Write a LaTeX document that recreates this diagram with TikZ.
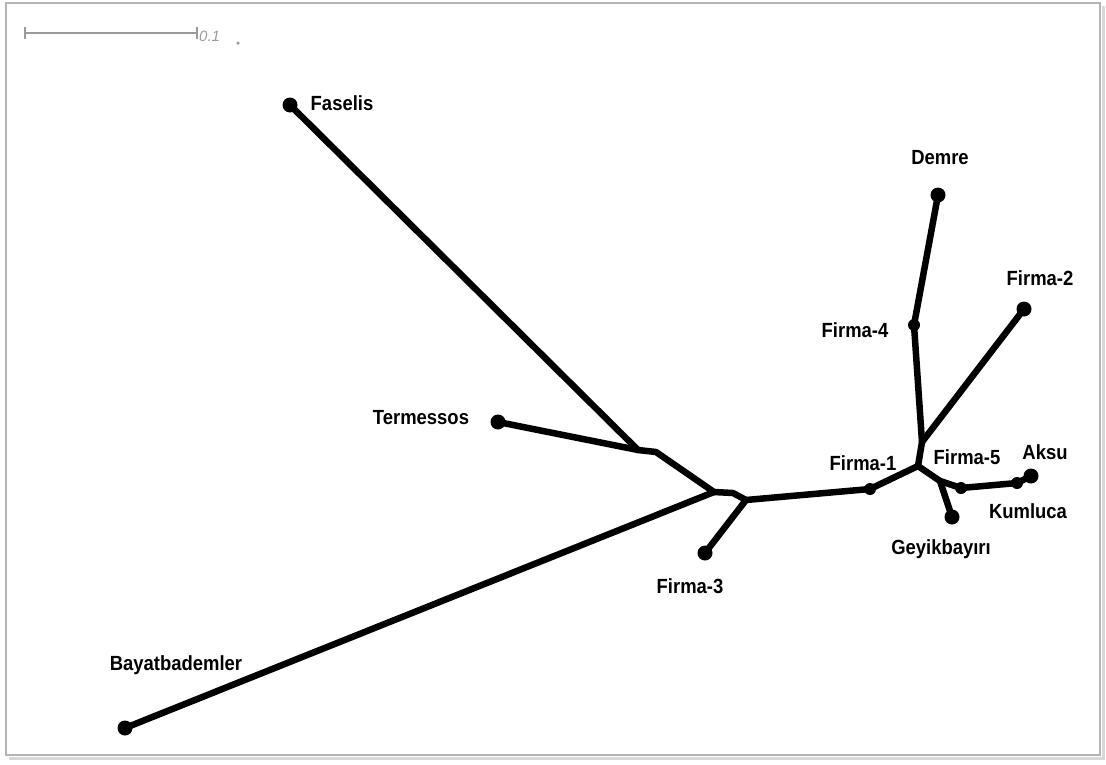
\documentclass[tikz,border=0pt]{standalone}
\usepackage{fontspec}
\setmainfont{Liberation Sans}
\usepackage{xcolor,graphicx}
\usetikzlibrary{positioning,calc}
\definecolor{treeLine}{HTML}{000000}
\definecolor{frameGrey}{HTML}{B4B4B4}
\definecolor{shadeGrey}{HTML}{D8D8D8}
\definecolor{scaleGrey}{HTML}{9A9A9A}

\begin{document}
\begin{tikzpicture}[x=1pt, y=-1pt,
  leaf/.style={circle, fill=treeLine, inner sep=0pt, minimum size=15pt},
  knot/.style={circle, fill=treeLine, inner sep=0pt, minimum size=12pt},
  branch/.style={draw=treeLine, line width=6.5pt, line cap=round, line join=round},
  taxon/.style={font=\bfseries\fontsize{20.5}{22}\selectfont, inner sep=0pt}]

\useasboundingbox (0,0) rectangle (1106,764);

%% frame ==============================================================
\draw[shadeGrey, line width=3pt] (9,758) -- (1103,758) -- (1103,6);
\draw[frameGrey, line width=1.2pt] (6,3) rectangle (1100,755);

%% scale bar ==========================================================
\coordinate (sbL) at (25,33);
\coordinate (sbR) at (197,33);
\draw[scaleGrey, line width=1.5pt] (sbL) -- (sbR);
\draw[scaleGrey, line width=1.5pt] ($(sbL)+(0,-6)$) -- ($(sbL)+(0,6)$);
\draw[scaleGrey, line width=1.5pt] ($(sbR)+(0,-6)$) -- ($(sbR)+(0,6)$);
\node[font=\itshape\fontsize{15}{17}\selectfont, text=scaleGrey,
      anchor=west, inner sep=0pt] (sbText) at (199,36) {0.1};
\node[circle, fill=scaleGrey, inner sep=0pt, minimum size=3.5pt]
  (sbDot) at (238,43) {};

%% leaves =============================================================
\foreach \nm/\px/\py in {%
  faselis/290/105,%
  termessos/498/422,%
  bayat/125/728,%
  firmaC/705/553,%
  demre/938/195,%
  firmaB/1024/309,%
  geyik/952/517,%
  aksu/1031/476%
} {
  \node[leaf] (\nm) at (\px,\py) {};
}
\node[knot] (firmaA) at (870,489) {};
\node[knot] (firmaD) at (914,325) {};
\node[knot] (firmaE) at (961,488) {};
\node[knot] (kumluca) at (1017,483) {};

%% inner nodes
\coordinate (jA) at (638,450);
\coordinate (jB) at (656,452);
\coordinate (jC) at (714,492);
\coordinate (jD) at (733,493);
\coordinate (jE) at (746,500);
\coordinate (jF) at (918,466);
\coordinate (jG) at (922,442);
\coordinate (jH) at (940,481);

%% branches ===========================================================
\draw[branch] (faselis.center) -- (jA);
\draw[branch] (termessos.center) -- (jA) -- (jB) -- (jC) -- (jD) -- (jE);
\draw[branch] (bayat.center) -- (jC);
\draw[branch] (jE) -- (firmaC.center);
\draw[branch] (jE) -- (firmaA.center) -- (jF);
\draw[branch] (jF) -- (jG) -- (firmaD.center) -- (demre.center);
\draw[branch] (jG) -- (firmaB.center);
\draw[branch] (jF) -- (jH) -- (geyik.center);
\draw[branch] (jH) -- (firmaE.center) -- (kumluca.center) -- (aksu.center);

%% labels =============================================================
\foreach \nm/\txt/\px/\py in {%
  lblFaselis/Faselis/342/103,%
  lblTermessos/Termessos/421/418,%
  lblBayat/Bayatbademler/176/665,%
  lblFirmaC/Firma-3/690/586,%
  lblFirmaA/Firma-1/863/463,%
  lblFirmaD/Firma-4/855/330,%
  lblDemre/Demre/940/158,%
  lblFirmaB/Firma-2/1040/278,%
  lblFirmaE/Firma-5/967/457,%
  lblAksu/Aksu/1045/452,%
  lblKumluca/Kumluca/1028/511,%
  lblGeyik/Geyikbayırı/941/549%
} {
  \node[taxon] (\nm) at (\px,\py) {\scalebox{0.9}[1]{\txt}};
}

\end{tikzpicture}
\end{document}
